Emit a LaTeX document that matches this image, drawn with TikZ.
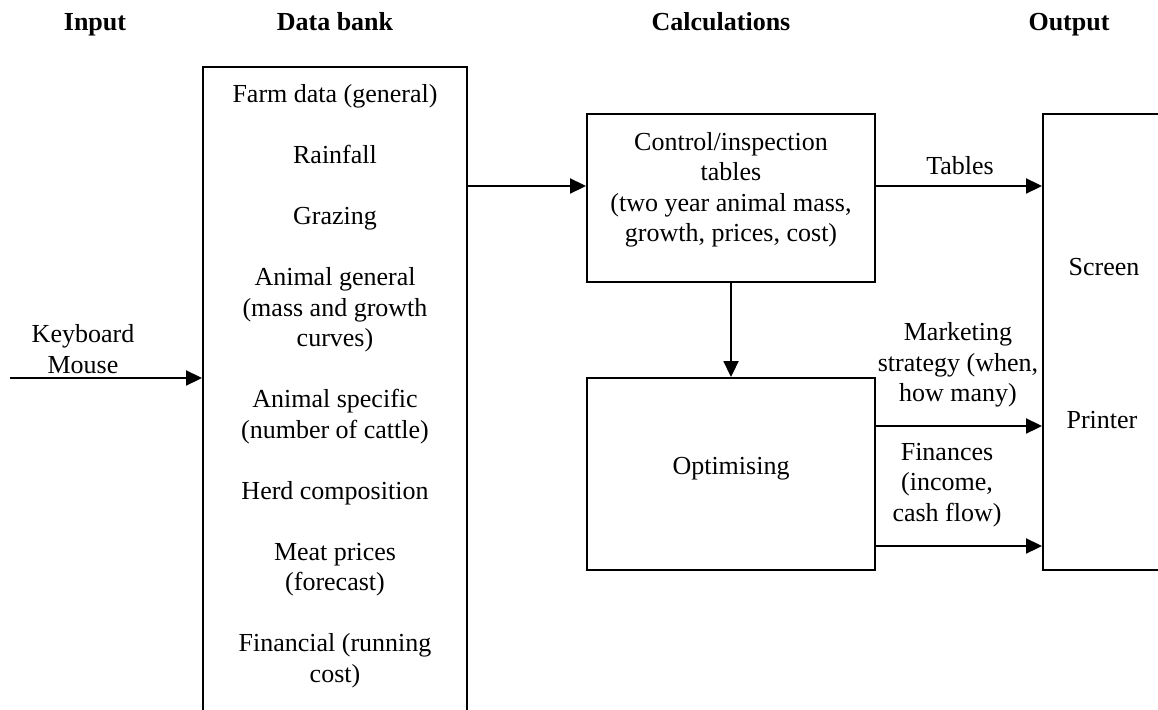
\documentclass[tikz,border=0pt]{standalone}
\usepackage{fontspec}
\setmainfont{Liberation Serif}
\usetikzlibrary{arrows.meta}

\begin{document}
\begin{tikzpicture}[x=1pt,y=-1pt,
    every node/.style={font=\fontsize{26}{30.5}\selectfont},
    head/.style={font=\fontsize{26}{30.5}\selectfont\bfseries, inner sep=0pt, anchor=base},
    txt/.style={align=center, inner sep=0pt},
    blk/.style={draw, line width=1.9pt, rectangle, inner sep=0pt},
    arr/.style={line width=1.9pt, -{Triangle[length=16pt,width=15pt]}},
  ]
  \useasboundingbox (0,0) rectangle (1158,709);
  \clip (0,0) rectangle (1158,709);

  % column headings
  \node[head] (hin)   at (95,31)   {Input};
  \node[head] (hdata) at (335,31)  {Data bank};
  \node[head] (hcalc) at (721,31)  {Calculations};
  \node[head] (hout)  at (1069,31) {Output};

  % data bank (runs past the lower edge)
  \node[blk, minimum width=264pt, minimum height=713pt] (db) at (335,423.5) {};
  \node[txt] (dbtext) at (335,386) {%
    Farm data (general)\\[30.5pt]
    Rainfall\\[30.5pt]
    Grazing\\[30.5pt]
    Animal general\\
    (mass and growth\\
    curves)\\[30.5pt]
    Animal specific\\
    (number of cattle)\\[30.5pt]
    Herd composition\\[30.5pt]
    Meat prices\\
    (forecast)\\[30.5pt]
    Financial (running\\
    cost)};

  % calculations
  \node[blk, minimum width=288pt, minimum height=168pt] (ctrl) at (731,198) {};
  \node[txt] (ctrltext) at (731,190) {Control/inspection\\tables\\(two year animal mass,\\growth, prices, cost)};
  \node[blk, minimum width=288pt, minimum height=192pt] (opt) at (731,474) {};
  \node[txt] (opttext) at (731,469) {Optimising};

  % output devices (runs past the right edge)
  \node[blk, minimum width=157pt, minimum height=456pt] (out) at (1121.5,342) {};
  \node[txt] (screen)  at (1104,267) {Screen};
  \node[txt] (printer) at (1102,420) {Printer};

  % input
  \node[txt] (kb) at (83,349) {Keyboard\\Mouse};
  \coordinate (kbstart) at (10,378);
  \draw[arr] (kbstart) -- (kbstart -| db.west);

  % data bank to control tables
  \coordinate (dbout) at (467,186);
  \draw[arr] (dbout) -- (dbout -| ctrl.west);

  % control tables to optimising
  \draw[arr] (ctrl.south) -- (opt.north);

  % results to output
  \coordinate (tabout) at (875,186);
  \draw[arr] (tabout) -- (tabout -| out.west);
  \node[txt] (ltab) at (960,166) {Tables};

  \coordinate (mktout) at (875,426);
  \draw[arr] (mktout) -- (mktout -| out.west);
  \node[txt] (lmkt) at (958,365) {Marketing\\strategy (when,\\how many)};

  \coordinate (finout) at (875,546);
  \draw[arr] (finout) -- (finout -| out.west);
  \node[txt] (lfin) at (947,485) {Finances\\(income,\\cash flow)};
\end{tikzpicture}
\end{document}
